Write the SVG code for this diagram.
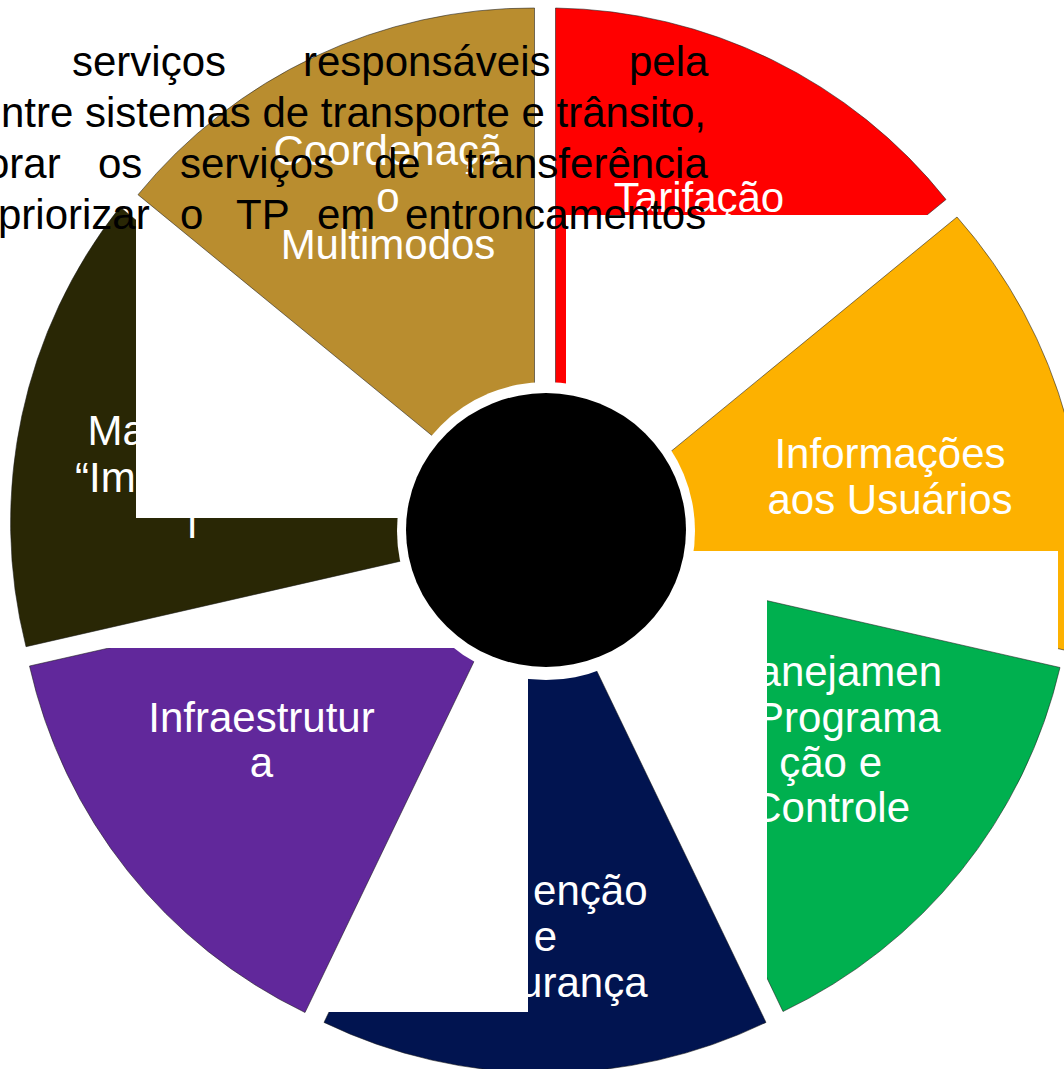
<svg xmlns="http://www.w3.org/2000/svg" width="1064" height="1069" viewBox="0 0 1064 1069">
<style>
.sec{stroke:#1a1a1a;stroke-opacity:0.55;stroke-width:1}
.lbl{font-family:"Liberation Sans",Arial,sans-serif;font-size:42px;fill:#ffffff}
.mid{text-anchor:middle}
.end{text-anchor:end}
.mask{fill:#ffffff}
.body{font-family:"Liberation Sans",Arial,sans-serif;font-size:42px;fill:#000000}
</style>
<rect x="0" y="0" width="1064" height="1069" fill="#ffffff"/>
<g id="connectors"/>
<g id="node-tarifacao">
<path class="sec" fill="#FF0000" d="M555.5,519 L555.5,8 A509,509 0 0 1 946,199.5 Z"/>
<text class="lbl mid" x="699" y="212">Tarifação</text>
<rect class="mask" x="566" y="215" width="420" height="250"/>
</g>
<g id="node-informacoes">
<path class="sec" fill="#FDB100" d="M567,536.6 L957,217 A509,509 0 0 1 1075,652.5 Z"/>
<text class="lbl mid" x="890" y="468">Informações</text>
<text class="lbl mid" x="890" y="514">aos Usuários</text>
<rect class="mask" x="695" y="551" width="363" height="130"/>
</g>
<g id="node-planejamento">
<path class="sec" fill="#00B04F" d="M563.9,554.3 L1060,667.5 A509,509 0 0 1 783,1011.5 Z"/>
<text class="lbl end" x="942" y="686">anejamen</text>
<text class="lbl end" x="940.5" y="732">Programa</text>
<text class="lbl end" x="882" y="777">ção e</text>
<text class="lbl end" x="910" y="822">Controle</text>
<rect class="mask" x="580" y="551" width="187" height="480"/>
</g>
<g id="node-prevencao">
<path class="sec" fill="#011450" d="M545,563.4 L766,1022.4 A509,509 0 0 1 324,1022.4 Z"/>
<text class="lbl end" x="647.5" y="905">enção</text>
<text class="lbl mid" x="545.5" y="951">e</text>
<text class="lbl end" x="647.5" y="997">urança</text>
<rect class="mask" x="300" y="640" width="228" height="372"/>
</g>
<g id="node-infraestrutura">
<path class="sec" fill="#61289B" d="M526,553.5 L305,1012.5 A509,509 0 0 1 29.5,666 Z"/>
<text class="lbl mid" x="261.5" y="732">Infraestrutur</text>
<text class="lbl mid" x="261.5" y="777">a</text>
<rect class="mask" x="100" y="560" width="400" height="88"/>
</g>
<g id="node-imagem">
<path class="sec" fill="#292705" d="M519.2,534.1 L26,646.7 A509,509 0 0 1 120,207 Z"/>
<text class="lbl" x="87.5" y="445">Ma</text>
<text class="lbl" x="75" y="492">“Im</text>
<text class="lbl" x="187.5" y="537.5">l</text>
<rect class="mask" x="136" y="200" width="300" height="318"/>
</g>
<g id="node-coordenacao">
<path class="sec" fill="#B98D2F" d="M534.5,519.6 L138,194.7 A509,509 0 0 1 534.5,8 Z"/>
<text class="lbl mid" x="388" y="165">Coordenaçã</text>
<text class="lbl mid" x="388" y="212">o</text>
<text class="lbl mid" x="388" y="259">Multimodos</text>
</g>
<g id="node-centro">
<circle cx="546" cy="531" r="149" fill="#ffffff"/>
<ellipse cx="546" cy="530" rx="140" ry="137" fill="#000000"/>
</g>
<g id="texto">
<text class="body" y="76"><tspan x="72">serviços</tspan><tspan x="303">responsáveis</tspan><tspan x="629">pela</tspan></text>
<text class="body" x="1" y="127">ntre sistemas de transporte e trânsito,</text>
<text class="body" y="178"><tspan x="-14">orar</tspan><tspan x="98">os</tspan><tspan x="180">serviços</tspan><tspan x="374">de</tspan><tspan x="465">transferência</tspan></text>
<text class="body" y="229"><tspan x="-2">priorizar</tspan><tspan x="180">o</tspan><tspan x="236">TP</tspan><tspan x="317">em</tspan><tspan x="405">entroncamentos</tspan></text>
</g>
</svg>
